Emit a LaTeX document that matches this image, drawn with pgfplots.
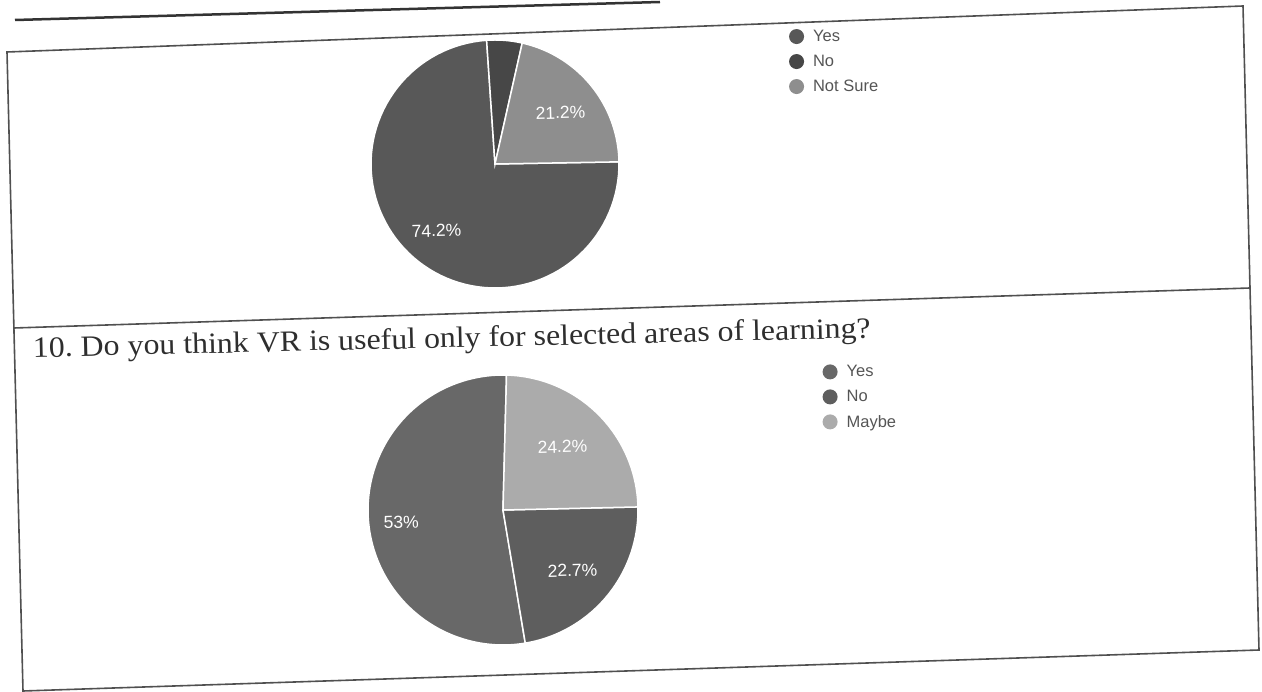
\documentclass[border=0pt]{standalone}
\usepackage{pgfplots}
\pgfplotsset{compat=1.18}
\usepackage{pgfplotstable}
\usepackage{fontspec}
\setmainfont{Liberation Serif}
\newfontfamily\arial{Liberation Sans}

\definecolor{yesA}{HTML}{585858}
\definecolor{noA}{HTML}{474747}
\definecolor{nsA}{HTML}{8E8E8E}
\definecolor{yesB}{HTML}{686868}
\definecolor{noB}{HTML}{5E5E5E}
\definecolor{mbB}{HTML}{ABABAB}
\definecolor{frame}{HTML}{505050}
\definecolor{legtext}{HTML}{555555}

\pgfplotstableread{
slice pct
Yes 74.2
No 4.6
NotSure 21.2
}\pieA
\pgfplotstableread{
slice pct
Yes 53.0
No 22.7
Maybe 24.2
}\pieB

\pgfplotsset{
 pieaxis/.style={scale only axis, hide axis, xmin=-1, xmax=1, ymin=-1, ymax=1,
   clip=false, anchor=center, legend cell align=left,
   legend image code/.code={\path[##1,draw=none] (7.5pt,0pt) circle[radius=7.5pt];},
   legend style={draw=none, fill=none, inner sep=0pt, anchor=north west,
     font=\arial\fontsize{16.5}{19}\selectfont, text=legtext,
     row sep=10pt, column sep=9pt, rotate=1.6,
     nodes={inner sep=0pt}},
 },
 slice/.style={draw=white, line width=1.5pt, samples=90, variable=\t},
}
\tikzset{lbl/.style={text=white, font=\arial\fontsize{17.5}{20}\selectfont, rotate=1.6, inner sep=0pt}}

\begin{document}
\begin{tikzpicture}
\useasboundingbox (0pt,0pt) rectangle (1262pt,-692pt);

% ---- angles for chart A (clockwise from start) ----
\pgfplotstablegetelem{0}{pct}\of\pieA \let\Ay\pgfplotsretval
\pgfplotstablegetelem{1}{pct}\of\pieA \let\An\pgfplotsretval
\pgfplotstablegetelem{2}{pct}\of\pieA \let\As\pgfplotsretval
\pgfmathsetmacro\Aa{1.0}
\pgfmathsetmacro\Ab{\Aa-3.6*\Ay}
\pgfmathsetmacro\Ac{\Ab-3.6*\An}
\pgfmathsetmacro\Ad{\Ac-3.6*\As}

% ---- angles for chart B: clockwise order Yes, Maybe, No ----
\pgfplotstablegetelem{0}{pct}\of\pieB \let\By\pgfplotsretval
\pgfplotstablegetelem{1}{pct}\of\pieB \let\Bn\pgfplotsretval
\pgfplotstablegetelem{2}{pct}\of\pieB \let\Bm\pgfplotsretval
\pgfmathsetmacro\Btot{\By+\Bn+\Bm}
\pgfmathsetmacro\Ba{-80.5}
\pgfmathsetmacro\Bb{\Ba-\By/\Btot*360}
\pgfmathsetmacro\Bc{\Bb-\Bm/\Btot*360}
\pgfmathsetmacro\Bd{\Bc-\Bn/\Btot*360}

% ---- frame lines ----
\draw[line width=2.5pt, color=black!80] (15pt,-20pt) -- (660pt,-2pt);
\draw[line width=1.6pt, color=frame] (7pt,-52pt) -- (1243pt,-6pt) -- (1259pt,-650pt) -- (23pt,-691pt) -- cycle;
\draw[line width=1.6pt, color=frame] (14pt,-328pt) -- (1250pt,-288pt);

% ---- question title ----
\node[anchor=base west, inner sep=0pt, rotate=1.35, xscale=1.08, font=\fontsize{29.5}{35}\selectfont, text=black!82]
  at (33pt,-357.5pt) {10.\ Do you think VR is useful only for selected areas of learning?};

% ---- chart A ----
\begin{axis}[pieaxis, width=248pt, height=248pt, at={(495pt,-164pt)},
  legend style={at={(1.685,1.045)}}]
\addplot[slice, fill=yesA, domain=\Ab:\Aa] ({cos(\t)},{sin(\t)}) -- (axis cs:0,0) -- cycle;
\addlegendentry{Yes}
\addplot[slice, fill=noA, domain=\Ac:\Ab] ({cos(\t)},{sin(\t)}) -- (axis cs:0,0) -- cycle;
\addlegendentry{No}
\addplot[slice, fill=nsA, domain=\Ad:\Ac] ({cos(\t)},{sin(\t)}) -- (axis cs:0,0) -- cycle;
\addlegendentry{Not Sure}
\node[lbl] at (axis cs:0.528,0.415) {21.2\%};
\node[lbl] at (axis cs:-0.472,-0.537) {74.2\%};
\end{axis}

% ---- chart B ----
\begin{axis}[pieaxis, width=270pt, height=270pt, at={(503pt,-510pt)},
  legend style={at={(1.683,1.040)}}]
\addplot[slice, fill=yesB, domain=\Bb:\Ba] ({cos(\t)},{sin(\t)}) -- (axis cs:0,0) -- cycle;
\addlegendentry{Yes}
\addplot[slice, fill=noB, domain=\Bd:\Bc] ({cos(\t)},{sin(\t)}) -- (axis cs:0,0) -- cycle;
\addlegendentry{No}
\addplot[slice, fill=mbB, domain=\Bc:\Bb] ({cos(\t)},{sin(\t)}) -- (axis cs:0,0) -- cycle;
\addlegendentry{Maybe}
\node[lbl] at (axis cs:0.44,0.47) {24.2\%};
\node[lbl] at (axis cs:-0.754,-0.09) {53\%};
\node[lbl] at (axis cs:0.515,-0.448) {22.7\%};
\end{axis}
\end{tikzpicture}
\end{document}
